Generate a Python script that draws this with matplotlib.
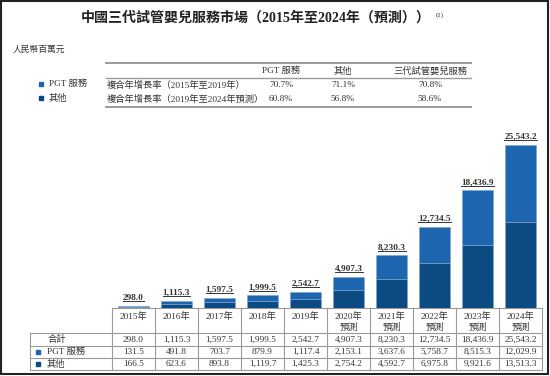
import matplotlib
matplotlib.use("Agg")
import matplotlib.pyplot as plt
from matplotlib.patches import Rectangle

# Data
years = ['2015年', '2016年', '2017年', '2018年', '2019年',
         '2020年', '2021年', '2022年', '2023年', '2024年']
forecast = [False] * 5 + [True] * 5
pgt = [131.5, 491.8, 703.7, 879.9, 1117.4, 2153.1, 3637.6, 5758.7, 8515.3, 12029.9]
other = [166.5, 623.6, 893.8, 1119.7, 1425.3, 2754.2, 4592.7, 6975.8, 9921.6, 13513.3]
total = [298.0, 1115.3, 1597.5, 1999.5, 2542.7, 4907.3, 8230.3, 12734.5, 18436.9, 25543.2]

cagr_cols = ['PGT 服務', '其他', '三代試管嬰兒服務']
cagr_rows = ['複合年增長率（2015年至2019年）', '複合年增長率（2019年至2024年預測）']
cagr_vals = [['70.7%', '71.1%', '70.8%'],
             ['60.8%', '56.8%', '58.6%']]

title = '中國三代試管嬰兒服務市場（2015年至2024年（預測））'
unit = '人民幣百萬元'

LIGHT = '#1d65ae'
DARK = '#0c4a82'
TXT = '#333333'
GRID = '#9a9a9a'
FAM = ['Liberation Serif', 'Noto Sans CJK TC']
FS = 6.7

W, H = 550, 376
fig = plt.figure(figsize=(W / 100, H / 100), dpi=100)

# overlay axes in pixel coordinates for text and table lines
ov = fig.add_axes([0, 0, 1, 1])
ov.set_xlim(0, W)
ov.set_ylim(H, 0)
ov.axis('off')

# bar axes: columns start at x=112, 43px each, baseline at y=308
x0, colw, base, top = 112, 43, 308, 130
ax = fig.add_axes([x0 / W, (H - base) / H, colw * 10 / W, (base - top) / H])
ax.set_xlim(-0.5, 9.5)
ax.set_ylim(0, 27890)
ax.axis('off')

xs = range(len(years))
ax.bar(xs, other, width=0.72, color=DARK, edgecolor='#7fa6cf', linewidth=0.4)
ax.bar(xs, pgt, bottom=other, width=0.72, color=LIGHT, edgecolor='#7fa6cf', linewidth=0.4)

labels = []
for i, t in enumerate(total):
    lab = ax.annotate(f'{t:,.1f}', (i, t), xytext=(0, 3), textcoords='offset points',
                      ha='center', va='bottom', fontsize=FS, fontweight='bold',
                      family=FAM, color=TXT)
    labels.append(lab)

# title and unit
ov.text(256, 18, title, ha='center', va='center', fontsize=10.1, fontweight='bold',
        family=FAM, color='#222222')
ov.text(436, 15, '(1)', ha='left', va='center', fontsize=5, family=FAM, color='#222222')
ov.text(13, 50, unit, ha='left', va='center', fontsize=6.3, family=FAM, color=TXT,
        style='italic')

# CAGR table
for y, lw in [(63, 1.4), (78, 1.0), (107, 1.4)]:
    ov.plot([106, 471], [y, y], color=GRID, lw=lw)
hx = [281, 343, 430]
for x, c in zip(hx, cagr_cols):
    ov.text(x, 71, c, ha='center', va='center', fontsize=FS, family=FAM, color=TXT)
for j, (r, vals) in enumerate(zip(cagr_rows, cagr_vals)):
    y = 85 + j * 14
    ov.text(107, y, r, ha='left', va='center', fontsize=FS, family=FAM, color=TXT)
    for x, v in zip(hx, vals):
        ov.text(x, y, v, ha='center', va='center', fontsize=FS, family=FAM, color=TXT)

# legend
for j, (name, col) in enumerate(zip(['PGT 服務', '其他'], [LIGHT, DARK])):
    y = 84 + j * 14
    ov.add_patch(Rectangle((39, y - 2.5), 4, 4, color=col))
    ov.text(49, y, name, ha='left', va='center', fontsize=FS, family=FAM, color=TXT)

# data table under bars
xr = x0 + colw * 10
ov.plot([x0, xr], [base, base], color=GRID, lw=0.8)
for y in [333, 346, 358, 370]:
    ov.plot([30, xr], [y, y], color=GRID, lw=0.8)
for i in range(11):
    ov.plot([x0 + i * colw] * 2, [base, 370], color=GRID, lw=0.8)
ov.plot([30, 30], [333, 370], color=GRID, lw=0.8)

for i, yr in enumerate(years):
    cx = x0 + colw * (i + 0.5)
    ov.text(cx, 317, yr, ha='center', va='center', fontsize=FS, family=FAM, color=TXT)
    if forecast[i]:
        ov.text(cx, 327, '預測', ha='center', va='center', fontsize=FS, family=FAM, color=TXT)
    for y, v in zip([339.5, 352, 364], [total[i], pgt[i], other[i]]):
        ov.text(cx, y, f'{v:,.1f}', ha='center', va='center', fontsize=FS,
                family=FAM, color=TXT)

ov.text(57, 339.5, '合計', ha='center', va='center', fontsize=FS, family=FAM, color=TXT)
for y, name, col in [(352, 'PGT 服務', LIGHT), (364, '其他', DARK)]:
    ov.add_patch(Rectangle((36, y - 2), 4, 4, color=col))
    ov.text(47, y, name, ha='left', va='center', fontsize=FS, family=FAM, color=TXT)

# underline the value labels
fig.canvas.draw()
inv = ov.transData.inverted()
for lab in labels:
    bb = lab.get_window_extent()
    (lx0, ly), (lx1, _) = inv.transform([[bb.x0, bb.y0], [bb.x1, bb.y0]])
    ov.plot([lx0, lx1], [ly - 0.5, ly - 0.5], color=TXT, lw=0.7)

# outer frame
ov.add_patch(Rectangle((1, 1), W - 3, H - 3, fill=False, edgecolor='#222222', lw=1.5))

fig.savefig('out.png', dpi=100)
